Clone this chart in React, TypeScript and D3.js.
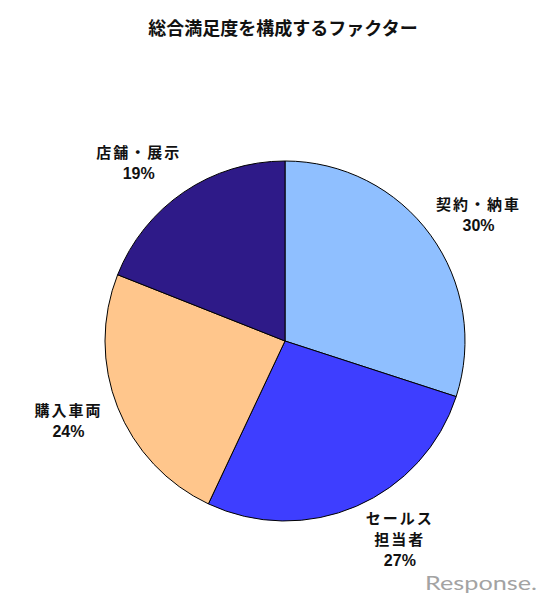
import React from 'react';
import * as d3 from 'd3';

const title = '総合満足度を構成するファクター';
const categories = ['契約・納車', 'セールス\n担当者', '購入車両', '店舗・展示'];
const shares = [30, 27, 24, 19];
const colors = ['#8FBFFF', '#3E3EFF', '#FFC68C', '#2E1A88'];

const width = 553;
const height = 600;
const cx = 285;
const cy = 341;
const radius = 180;

const cjkFont = "'Noto Sans CJK JP', 'Noto Sans CJK SC', sans-serif";
const latinFont = "'Liberation Sans', Arial, sans-serif";

const App: React.FC = () => {
  const pie = d3.pie<number>().sort(null).value((d) => d);
  const slices = pie(shares);
  const arc = d3.arc<d3.PieArcDatum<number>>().innerRadius(0).outerRadius(radius);

  // label block: pushed out along the mid angle, plus half a box width sideways
  const labelR = 191;
  const halfBox = 39;
  const labelRy = 216;
  const lineH = 21;

  return (
    <svg
      width={width}
      height={height}
      style={{ position: 'absolute', left: 0, top: 0, background: '#fff' }}
    >
      <text
        x={283}
        y={35}
        textAnchor="middle"
        fontSize={18}
        fontWeight="bold"
        fontFamily={cjkFont}
        fill="#111"
      >
        {title}
      </text>

      <g transform={`translate(${cx},${cy})`}>
        {slices.map((s, i) => (
          <path key={i} d={arc(s) || ''} fill={colors[i]} stroke="#000" strokeWidth={1} />
        ))}

        {slices.map((s, i) => {
          const mid = (s.startAngle + s.endAngle) / 2;
          const sx = Math.sin(mid);
          const lx = sx * labelR + Math.sign(sx) * halfBox;
          const ly = -Math.cos(mid) * labelRy;
          const lines = [...categories[i].split('\n'), `${shares[i]}%`];
          const top = ly - ((lines.length - 1) * lineH) / 2;
          return (
            <g key={i}>
              {lines.map((t, j) => {
                const isPct = j === lines.length - 1;
                return (
                  <text
                    key={j}
                    x={lx}
                    y={top + j * lineH + 6}
                    textAnchor="middle"
                    fontWeight="bold"
                    fill="#111"
                    fontSize={isPct ? 16 : 15}
                    fontFamily={isPct ? latinFont : cjkFont}
                    letterSpacing={isPct ? 0 : 2}
                  >
                    {t}
                  </text>
                );
              })}
            </g>
          );
        })}
      </g>

      <text
        x={425}
        y={590}
        fontSize={19}
        fill="#a3a3a3"
        fontFamily="Lato, 'DejaVu Sans', sans-serif"
        textLength={112}
        lengthAdjust="spacingAndGlyphs"
      >
        Response.
      </text>
    </svg>
  );
};

export default App;
